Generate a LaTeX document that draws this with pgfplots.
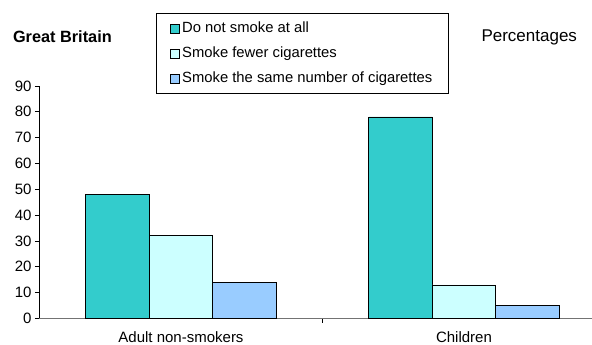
\documentclass[border=0pt]{standalone}
\usepackage{pgfplots}
\pgfplotsset{compat=1.18}
\usepackage{fontspec}
\setmainfont{Liberation Sans}

\definecolor{cNone}{HTML}{33CCCC}
\definecolor{cFewer}{HTML}{CCFFFF}
\definecolor{cSame}{HTML}{99CCFF}

\begin{document}
\begin{tikzpicture}[x=1pt,y=1pt]
\path[use as bounding box] (-39.5,-26.5) rectangle (552.5,318.5);
\begin{axis}[
  at={(0,0)}, anchor=south west,
  scale only axis, width=552.5pt, height=232.5pt,
  xmin=-0.5, xmax=1.4523, ymin=0, ymax=90,
  axis x line*=bottom, axis y line*=left,
  x axis line style={draw=black!55, line width=1.1pt},
  y axis line style={draw=black, line width=0.7pt},
  ytick={0,10,...,90},
  xtick={0.5}, xticklabels={},
  extra x ticks={0,1},
  extra x tick labels={Adult non-smokers,Children},
  extra x tick style={major tick length=0pt},
  tick align=outside, major tick length=4.5pt,
  tick style={draw=black, line width=0.7pt},
  every tick label/.append style={font=\fontsize{15}{17}\selectfont},
  /pgf/number format/assume math mode=true,
  xticklabel style={yshift=-10pt},
  ybar=0pt, bar width=63.5pt,
  every axis plot/.append style={draw=black, line width=0.8pt},
  clip=false,
  legend style={
    at={(0.2109,1.314)}, anchor=north west,
    draw=black, line width=0.8pt,
    font=\fontsize{14.8}{17}\selectfont,
    inner xsep=14pt, inner ysep=4.5pt,
    row sep=3.5pt,
    nodes={text height=10.5pt, text depth=3pt, inner ysep=4pt},
  },
  legend cell align=left,
  legend image code/.code={\draw[#1, line width=0.8pt] (1.5pt,-4.5pt) rectangle (10.5pt,4.5pt);},
]
\addplot[fill=cNone]  coordinates {(0,48) (1,78)};
\addplot[fill=cFewer] coordinates {(0,32) (1,13)};
\addplot[fill=cSame]  coordinates {(0,14) (1,5)};
\legend{Do not smoke at all,Smoke fewer cigarettes,Smoke the same number of cigarettes}
\end{axis}
\node[anchor=west, font=\fontsize{16.3}{18}\selectfont\bfseries] at (-30,281.5) {Great Britain};
\node[anchor=east, font=\fontsize{17}{19}\selectfont] at (541,281.5) {Percentages};
\end{tikzpicture}
\end{document}
